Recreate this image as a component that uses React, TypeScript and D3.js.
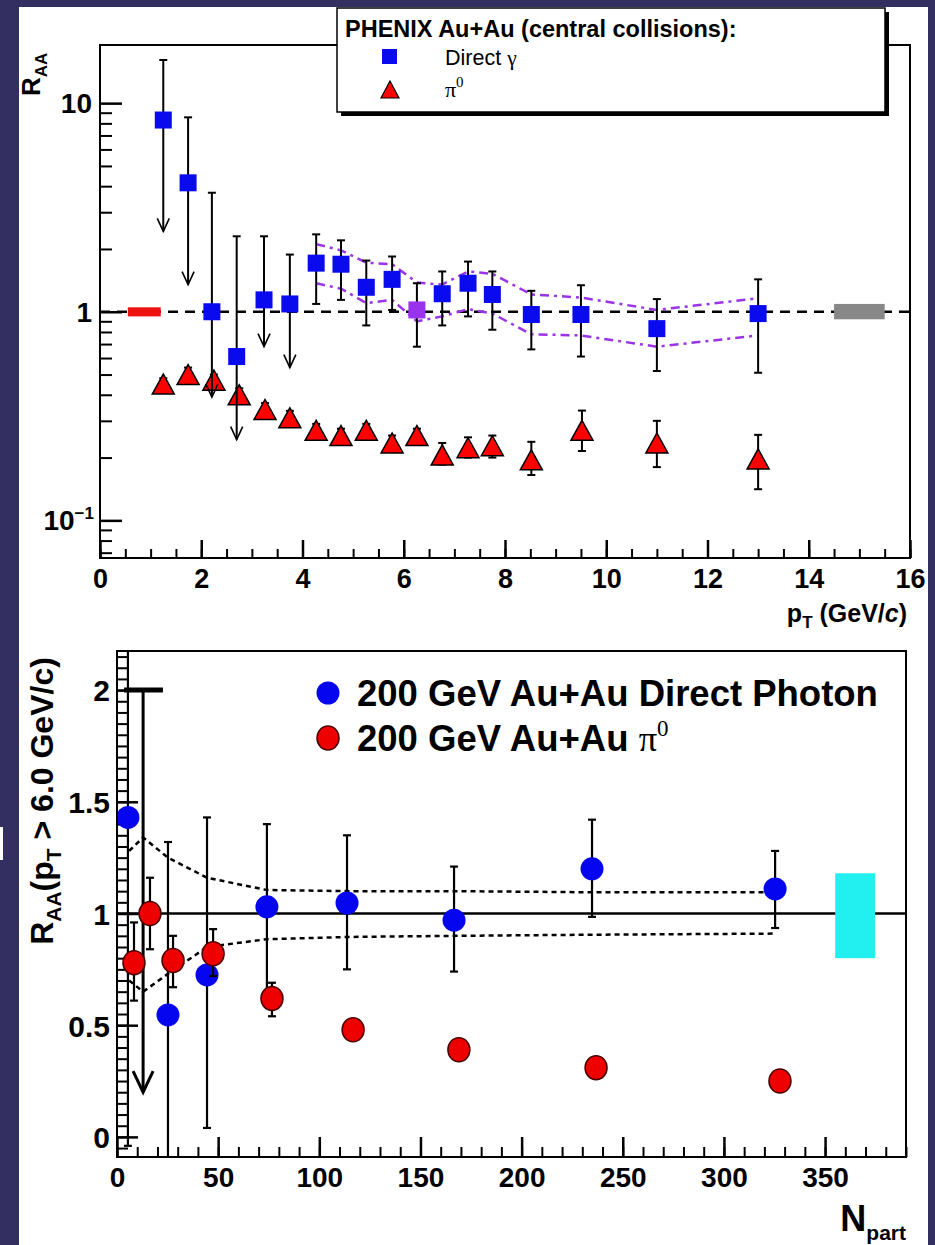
import React, { useEffect, useRef } from 'react'
import * as d3 from 'd3'

const FONT = "'Liberation Sans', Arial, Helvetica, sans-serif"
const SERIF = "'Liberation Serif', 'DejaVu Serif', serif"

// ---- top panel: R_AA vs pT (PHENIX Au+Au central)
const gammaPt = [1.25, 1.74, 2.21, 2.7, 3.24, 3.75, 4.27, 4.76, 5.26, 5.77, 6.26, 6.76, 7.27, 7.75, 8.52, 9.5, 11.0, 13.0]
const gammaRaa = [8.3, 4.15, 1.0, 0.61, 1.14, 1.09, 1.71, 1.69, 1.31, 1.43, 1.02, 1.22, 1.37, 1.21, 0.97, 0.97, 0.83, 0.98]
const gammaHi = [16.1, 8.55, 3.72, 2.3, 2.3, 1.88, 2.35, 2.2, 1.76, 1.84, 1.37, 1.56, 1.74, 1.56, 1.26, 1.34, 1.15, 1.43]
const gammaLo = [2.43, 1.35, 0.39, 0.244, 0.68, 0.54, 1.09, 1.14, 0.86, 1.02, 0.68, 0.86, 0.95, 0.82, 0.66, 0.61, 0.52, 0.51]
const gammaUpperLimit = [true, true, true, true, true, true, false, false, false, false, false, false, false, false, false, false, false, false]
const gammaPurple = [false, false, false, false, false, false, false, false, false, false, true, false, false, false, false, false, false, false]

const pi0Pt = [1.25, 1.74, 2.25, 2.75, 3.26, 3.75, 4.27, 4.76, 5.26, 5.77, 6.26, 6.76, 7.27, 7.75, 8.52, 9.52, 11.0, 13.0]
const pi0Raa = [0.45, 0.5, 0.47, 0.4, 0.34, 0.31, 0.27, 0.255, 0.27, 0.235, 0.255, 0.206, 0.223, 0.228, 0.195, 0.27, 0.235, 0.197]
const pi0Hi = [0.48, 0.54, 0.5, 0.43, 0.365, 0.335, 0.29, 0.275, 0.29, 0.255, 0.275, 0.235, 0.25, 0.255, 0.238, 0.336, 0.3, 0.257]
const pi0Lo = [0.43, 0.47, 0.44, 0.37, 0.315, 0.29, 0.25, 0.235, 0.25, 0.215, 0.235, 0.185, 0.2, 0.2, 0.165, 0.215, 0.18, 0.141]

// purple dash-dot band around the photon points
const bandPt = [4.27, 4.76, 5.26, 5.77, 6.26, 6.76, 7.27, 7.75, 8.52, 9.5, 11.0, 13.0]
const bandHi = [2.11, 1.97, 1.72, 1.69, 1.38, 1.35, 1.56, 1.52, 1.21, 1.17, 1.02, 1.16]
const bandLo = [1.37, 1.29, 1.1, 1.14, 0.9, 0.95, 1.03, 0.98, 0.78, 0.77, 0.68, 0.77]

// normalisation boxes at R_AA = 1
const normRed = { x0: 0.55, x1: 1.2, lo: 0.95, hi: 1.05 }
const normGray = { x0: 14.5, x1: 15.5, lo: 0.92, hi: 1.09 }

// ---- bottom panel: R_AA(pT > 6 GeV/c) vs Npart
const photonNpart = [5.4, 25.2, 44.5, 74.1, 113.7, 166.6, 234.8, 325.3]
const photonRaa = [1.43, 0.546, 0.725, 1.03, 1.047, 0.97, 1.2, 1.11]
const photonHi = [2.4, 1.32, 1.43, 1.4, 1.35, 1.21, 1.42, 1.28]
const photonLo = [-0.04, -0.2, 0.04, 0.62, 0.75, 0.74, 0.985, 0.935]

const limitNpart = [12.9]
const limitTop = [2.0]
const limitBottom = [0.2]
const limitBar = [[3.5, 22.7]]

const piNpart = [8.4, 16.3, 27.7, 47.5, 76.6, 116.7, 169, 236.8, 327.7]
const piRaa = [0.78, 1.0, 0.79, 0.82, 0.62, 0.48, 0.39, 0.31, 0.25]
const piHi = [0.96, 1.16, 0.9, 0.93, 0.69, 0.5, 0.41, 0.33, 0.27]
const piLo = [0.61, 0.84, 0.67, 0.72, 0.54, 0.45, 0.37, 0.29, 0.23]

const sysNpart = [6, 12.9, 25.2, 44.5, 74.1, 113.7, 166.6, 234.8, 325.3]
const sysHi = [1.28, 1.34, 1.25, 1.16, 1.105, 1.1, 1.1, 1.095, 1.095]
const sysLo = [0.7, 0.65, 0.73, 0.85, 0.885, 0.895, 0.9, 0.905, 0.91]

const cyanBox = { x0: 355, x1: 374.7, lo: 0.8, hi: 1.18 }

function styleAxis(g: any, width: number) {
  g.select('.domain').remove()
  g.selectAll('.tick line').attr('stroke', '#000').attr('stroke-width', width)
}

function drawTop(svg: any) {
  const left = 100, right = 910, top = 45, bottom = 558
  const x = d3.scaleLinear().domain([0, 16]).range([left, right])
  const y = d3.scaleLog().domain([0.066, 19]).range([bottom, top])

  svg.append('clipPath').attr('id', 'clipTop').append('rect')
    .attr('x', left).attr('y', top).attr('width', right - left).attr('height', bottom - top)

  // ticks
  const majorY = [0.1, 1, 10]
  const gy1 = svg.append('g').attr('transform', `translate(${left},0)`)
    .call(d3.axisLeft(y).tickValues(y.ticks().filter(v => !majorY.includes(+v.toPrecision(3)))).tickSize(-12).tickFormat(() => ''))
  styleAxis(gy1, 2)
  const gy2 = svg.append('g').attr('transform', `translate(${left},0)`)
    .call(d3.axisLeft(y).tickValues(majorY).tickSize(-22).tickFormat(() => ''))
  styleAxis(gy2, 2.5)

  const gx1 = svg.append('g').attr('transform', `translate(0,${bottom})`)
    .call(d3.axisBottom(x).tickValues(x.ticks(32)).tickSize(-9).tickFormat(() => ''))
  styleAxis(gx1, 2)
  const gx2 = svg.append('g').attr('transform', `translate(0,${bottom})`)
    .call(d3.axisBottom(x).ticks(8).tickSize(-18).tickPadding(11).tickFormat(d3.format('d')))
  styleAxis(gx2, 2.5)
  gx2.selectAll('text').attr('font-family', FONT).attr('font-weight', 'bold').attr('font-size', 27).attr('fill', '#000')

  // y labels
  const ylab = svg.append('g').attr('font-family', FONT).attr('font-weight', 'bold').attr('font-size', 28).attr('text-anchor', 'end')
  ylab.append('text').attr('x', 92).attr('y', y(10) + 10).text('10')
  ylab.append('text').attr('x', 92).attr('y', y(1) + 10).text('1')
  const t01 = ylab.append('text').attr('x', 94).attr('y', y(0.1) + 10)
  t01.append('tspan').text('10')
  t01.append('tspan').attr('font-size', 17).attr('dy', -11).text('\u22121')

  // axis titles
  const tx = svg.append('text').attr('x', 907).attr('y', 622).attr('text-anchor', 'end')
    .attr('font-family', FONT).attr('font-weight', 'bold').attr('font-size', 25)
  tx.append('tspan').text('p')
  tx.append('tspan').attr('font-size', 17).attr('dy', 6).text('T')
  tx.append('tspan').attr('dy', -6).text(' (GeV/')
  tx.append('tspan').attr('font-style', 'italic').text('c')
  tx.append('tspan').text(')')

  const ty = svg.append('text').attr('transform', 'translate(40,96) rotate(-90)')
    .attr('font-family', FONT).attr('font-weight', 'bold').attr('font-size', 26)
  ty.append('tspan').text('R')
  ty.append('tspan').attr('font-size', 17).attr('dy', 7).text('AA')

  const plot = svg.append('g').attr('clip-path', 'url(#clipTop)')

  // reference line and normalisation boxes
  plot.append('line').attr('x1', left).attr('x2', right).attr('y1', y(1)).attr('y2', y(1))
    .attr('stroke', '#000').attr('stroke-width', 2.5).attr('stroke-dasharray', '10,7')
  plot.append('rect').attr('x', x(normRed.x0)).attr('width', x(normRed.x1) - x(normRed.x0))
    .attr('y', y(normRed.hi)).attr('height', y(normRed.lo) - y(normRed.hi)).attr('fill', '#ee1111')
  plot.append('rect').attr('x', x(normGray.x0)).attr('width', x(normGray.x1) - x(normGray.x0))
    .attr('y', y(normGray.hi)).attr('height', y(normGray.lo) - y(normGray.hi)).attr('fill', '#888')

  // band
  const bandLine = d3.line<number>().x((_, i) => x(bandPt[i]))
  plot.append('path').attr('d', bandLine.y(d => y(d))(bandHi)).attr('fill', 'none')
    .attr('stroke', '#9b33e6').attr('stroke-width', 2.5).attr('stroke-dasharray', '9,5,3,5')
  plot.append('path').attr('d', bandLine.y(d => y(d))(bandLo)).attr('fill', 'none')
    .attr('stroke', '#9b33e6').attr('stroke-width', 2.5).attr('stroke-dasharray', '9,5,3,5')

  // pi0 error bars + triangles
  pi0Pt.forEach((pt, i) => {
    const cx = x(pt)
    plot.append('line').attr('x1', cx).attr('x2', cx).attr('y1', y(pi0Hi[i])).attr('y2', y(pi0Lo[i]))
      .attr('stroke', '#000').attr('stroke-width', 2)
    ;[pi0Hi[i], pi0Lo[i]].forEach(v => plot.append('line').attr('x1', cx - 4).attr('x2', cx + 4)
      .attr('y1', y(v)).attr('y2', y(v)).attr('stroke', '#000').attr('stroke-width', 2))
  })
  pi0Pt.forEach((pt, i) => {
    const cx = x(pt), cy = y(pi0Raa[i])
    plot.append('path').attr('d', `M${cx - 11},${cy + 10}L${cx + 11},${cy + 10}L${cx},${cy - 10}Z`)
      .attr('fill', '#ff0000').attr('stroke', '#000').attr('stroke-width', 1.5)
  })

  // photon error bars, upper limits, squares
  gammaPt.forEach((pt, i) => {
    const cx = x(pt)
    plot.append('line').attr('x1', cx).attr('x2', cx).attr('y1', y(gammaHi[i])).attr('y2', y(gammaLo[i]))
      .attr('stroke', '#000').attr('stroke-width', 2)
    plot.append('line').attr('x1', cx - 4).attr('x2', cx + 4).attr('y1', y(gammaHi[i])).attr('y2', y(gammaHi[i]))
      .attr('stroke', '#000').attr('stroke-width', 2)
    if (gammaUpperLimit[i]) {
      const yl = y(gammaLo[i])
      plot.append('path').attr('d', `M${cx - 6},${yl - 13}L${cx},${yl}L${cx + 6},${yl - 13}`)
        .attr('fill', 'none').attr('stroke', '#000').attr('stroke-width', 1.6)
    } else {
      plot.append('line').attr('x1', cx - 4).attr('x2', cx + 4).attr('y1', y(gammaLo[i])).attr('y2', y(gammaLo[i]))
        .attr('stroke', '#000').attr('stroke-width', 2)
    }
  })
  gammaPt.forEach((pt, i) => {
    plot.append('rect').attr('x', x(pt) - 8.5).attr('y', y(gammaRaa[i]) - 8.5).attr('width', 17).attr('height', 17)
      .attr('fill', gammaPurple[i] ? '#9933ee' : '#0a0aee')
  })

  // frame
  svg.append('rect').attr('x', left).attr('y', top).attr('width', right - left).attr('height', bottom - top)
    .attr('fill', 'none').attr('stroke', '#000').attr('stroke-width', 2)

  // legend
  const lg = svg.append('g')
  lg.append('rect').attr('x', 341).attr('y', 12).attr('width', 548).attr('height', 104).attr('fill', '#000')
  lg.append('rect').attr('x', 337).attr('y', 8).attr('width', 548).attr('height', 104)
    .attr('fill', '#fff').attr('stroke', '#000').attr('stroke-width', 1.5)
  lg.append('text').attr('x', 345).attr('y', 37).attr('font-family', FONT).attr('font-weight', 'bold')
    .attr('font-size', 23.5).text('PHENIX Au+Au (central collisions):')
  lg.append('rect').attr('x', 382).attr('y', 49).attr('width', 15).attr('height', 15).attr('fill', '#0a0aee')
  lg.append('path').attr('d', 'M381,98L399,98L390,81Z').attr('fill', '#ff0000').attr('stroke', '#000').attr('stroke-width', 1.2)
  const lt1 = lg.append('text').attr('x', 445).attr('y', 65).attr('font-family', FONT).attr('font-size', 21.5)
  lt1.append('tspan').text('Direct ')
  lt1.append('tspan').attr('font-family', SERIF).text('\u03b3')
  const lt2 = lg.append('text').attr('x', 445).attr('y', 97).attr('font-family', SERIF).attr('font-size', 22)
  lt2.append('tspan').text('\u03c0')
  lt2.append('tspan').attr('font-size', 15).attr('dy', -10).text('0')
}

function drawBottom(svg: any) {
  const left = 117, right = 906, top = 651, bottom = 1157
  const x = d3.scaleLinear().domain([0, 390]).range([left, right])
  const y = d3.scaleLinear().domain([-0.09, 2.175]).range([bottom, top])

  svg.append('clipPath').attr('id', 'clipBot').append('rect')
    .attr('x', left).attr('y', top).attr('width', right - left).attr('height', bottom - top)

  const gy1 = svg.append('g').attr('transform', `translate(${left},0)`)
    .call(d3.axisLeft(y).tickValues(y.ticks(40)).tickSize(-11).tickFormat(() => ''))
  styleAxis(gy1, 2)
  const gy2 = svg.append('g').attr('transform', `translate(${left},0)`)
    .call(d3.axisLeft(y).ticks(5).tickSize(-21).tickPadding(7).tickFormat(d => String(d)))
  styleAxis(gy2, 2.5)
  gy2.selectAll('text').attr('font-family', FONT).attr('font-weight', 'bold').attr('font-size', 30).attr('fill', '#000').attr('dy', '0.36em')

  const gx1 = svg.append('g').attr('transform', `translate(0,${bottom})`)
    .call(d3.axisBottom(x).tickValues(x.ticks(40)).tickSize(-10).tickFormat(() => ''))
  styleAxis(gx1, 2)
  const gx2 = svg.append('g').attr('transform', `translate(0,${bottom})`)
    .call(d3.axisBottom(x).ticks(8).tickSize(-20).tickPadding(10).tickFormat(d3.format('d')))
  styleAxis(gx2, 2.5)
  gx2.selectAll('text').attr('font-family', FONT).attr('font-weight', 'bold').attr('font-size', 28).attr('fill', '#000')

  const tx = svg.append('text').attr('x', 906).attr('y', 1231).attr('text-anchor', 'end')
    .attr('font-family', FONT).attr('font-weight', 'bold').attr('font-size', 36)
  tx.append('tspan').text('N')
  tx.append('tspan').attr('font-size', 21).attr('dy', 9).text('part')

  const ty = svg.append('text').attr('transform', 'translate(53,801) rotate(-90)').attr('text-anchor', 'middle')
    .attr('font-family', FONT).attr('font-weight', 'bold').attr('font-size', 32)
  ty.append('tspan').text('R')
  ty.append('tspan').attr('font-size', 21).attr('dy', 8).text('AA')
  ty.append('tspan').attr('dy', -8).text('(p')
  ty.append('tspan').attr('font-size', 21).attr('dy', 8).text('T')
  ty.append('tspan').attr('dy', -8).text(' > 6.0 GeV/c)')

  const plot = svg.append('g').attr('clip-path', 'url(#clipBot)')

  plot.append('line').attr('x1', left).attr('x2', right).attr('y1', y(1)).attr('y2', y(1))
    .attr('stroke', '#000').attr('stroke-width', 2.5)

  const sysLine = d3.line<number>().x((_, i) => x(sysNpart[i])).y(d => y(d))
  ;[sysHi, sysLo].forEach(arr => plot.append('path').attr('d', sysLine(arr)).attr('fill', 'none')
    .attr('stroke', '#000').attr('stroke-width', 2.5).attr('stroke-dasharray', '5,4'))

  plot.append('rect').attr('x', x(cyanBox.x0)).attr('width', x(cyanBox.x1) - x(cyanBox.x0))
    .attr('y', y(cyanBox.hi)).attr('height', y(cyanBox.lo) - y(cyanBox.hi)).attr('fill', '#22f0f0')

  // photon error bars + markers
  photonNpart.forEach((n, i) => {
    const cx = x(n)
    plot.append('line').attr('x1', cx).attr('x2', cx).attr('y1', y(photonHi[i])).attr('y2', y(photonLo[i]))
      .attr('stroke', '#000').attr('stroke-width', 2.2)
    ;[photonHi[i], photonLo[i]].forEach(v => plot.append('line').attr('x1', cx - 4).attr('x2', cx + 4)
      .attr('y1', y(v)).attr('y2', y(v)).attr('stroke', '#000').attr('stroke-width', 2.2))
  })
  // upper limit arrow
  limitNpart.forEach((n, i) => {
    const cx = x(n), yt = y(limitTop[i]), yb = y(limitBottom[i])
    plot.append('line').attr('x1', x(limitBar[i][0])).attr('x2', x(limitBar[i][1])).attr('y1', yt).attr('y2', yt)
      .attr('stroke', '#000').attr('stroke-width', 5)
    plot.append('line').attr('x1', cx).attr('x2', cx).attr('y1', yt).attr('y2', yb)
      .attr('stroke', '#000').attr('stroke-width', 3)
    plot.append('path').attr('d', `M${cx - 10},${yb - 21}L${cx},${yb}L${cx + 10},${yb - 21}`)
      .attr('fill', 'none').attr('stroke', '#000').attr('stroke-width', 3)
  })
  photonNpart.forEach((n, i) => {
    plot.append('circle').attr('cx', x(n)).attr('cy', y(photonRaa[i])).attr('r', 11.5).attr('fill', '#0505f0')
  })

  // pi0 error bars + markers
  piNpart.forEach((n, i) => {
    const cx = x(n)
    plot.append('line').attr('x1', cx).attr('x2', cx).attr('y1', y(piHi[i])).attr('y2', y(piLo[i]))
      .attr('stroke', '#000').attr('stroke-width', 2.2)
    ;[piHi[i], piLo[i]].forEach(v => plot.append('line').attr('x1', cx - 4).attr('x2', cx + 4)
      .attr('y1', y(v)).attr('y2', y(v)).attr('stroke', '#000').attr('stroke-width', 2.2))
  })
  piNpart.forEach((n, i) => {
    plot.append('ellipse').attr('cx', x(n)).attr('cy', y(piRaa[i])).attr('rx', 11).attr('ry', 12)
      .attr('fill', '#ee0000').attr('stroke', '#4a0000').attr('stroke-width', 1.5)
  })

  svg.append('rect').attr('x', left).attr('y', top).attr('width', right - left).attr('height', bottom - top)
    .attr('fill', 'none').attr('stroke', '#000').attr('stroke-width', 2)

  // legend
  const lg = svg.append('g').attr('font-family', FONT).attr('font-weight', 'bold').attr('font-size', 36.5)
  lg.append('circle').attr('cx', 328).attr('cy', 693).attr('r', 11.5).attr('fill', '#0505f0')
  lg.append('ellipse').attr('cx', 328).attr('cy', 738).attr('rx', 11).attr('ry', 12)
    .attr('fill', '#ee0000').attr('stroke', '#4a0000').attr('stroke-width', 1.5)
  lg.append('text').attr('x', 357).attr('y', 706).text('200 GeV Au+Au Direct Photon')
  const l2 = lg.append('text').attr('x', 357).attr('y', 751)
  l2.append('tspan').text('200 GeV Au+Au ')
  l2.append('tspan').attr('font-family', SERIF).attr('font-weight', 'normal').text('\u03c0')
  l2.append('tspan').attr('font-family', SERIF).attr('font-weight', 'normal').attr('font-size', 23).attr('dy', -15).text('0')
}

export default function App() {
  const ref = useRef<SVGSVGElement>(null)
  useEffect(() => {
    const svg = d3.select(ref.current)
    svg.selectAll('*').remove()
    svg.append('rect').attr('width', 935).attr('height', 1245).attr('fill', '#332f60')
    svg.append('rect').attr('x', 19).attr('y', 7).attr('width', 909).attr('height', 1238).attr('fill', '#fff')
    svg.append('rect').attr('x', 0).attr('y', 827).attr('width', 3).attr('height', 33).attr('fill', '#fff')
    drawTop(svg)
    drawBottom(svg)
  }, [])
  return <svg ref={ref} width={935} height={1245} style={{ position: 'absolute', left: 0, top: 0, display: 'block' }} />
}
